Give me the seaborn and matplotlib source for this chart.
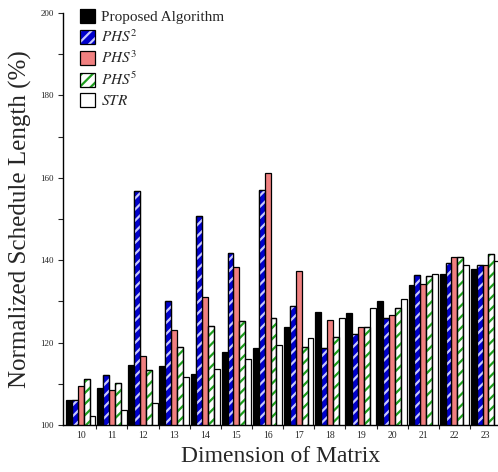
import numpy as np
import pandas as pd
import seaborn as sns
import matplotlib
matplotlib.use("Agg")
import matplotlib.pyplot as plt
from matplotlib.patches import Rectangle, Patch
from matplotlib.legend_handler import HandlerTuple
from matplotlib.ticker import MultipleLocator, FixedLocator

dims = [10, 11, 12, 13, 14, 15, 16, 17, 18, 19, 20, 21, 22, 23]
proposed = [106.1, 108.9, 114.5, 114.3, 112.5, 117.6, 118.7, 123.7, 127.4, 127.1, 130.2, 133.9, 136.6, 137.9]
phs2 = [106.0, 112.1, 156.8, 130.2, 150.7, 141.8, 157.0, 128.8, 118.8, 122.0, 126.0, 136.3, 139.2, 138.8]
phs3 = [109.5, 108.4, 116.7, 123.0, 131.1, 138.3, 161.1, 137.3, 125.5, 123.9, 126.6, 134.2, 140.7, 138.8]
phs5 = [111.2, 110.1, 113.3, 118.9, 124.1, 125.2, 126.0, 119.0, 121.4, 123.9, 128.4, 136.2, 140.7, 141.4]
strv = [102.3, 103.6, 105.3, 111.7, 113.5, 116.0, 119.3, 121.2, 126.0, 128.4, 130.5, 136.6, 138.8, 139.7]

names = ["Proposed Algorithm", r"$PHS^2$", r"$PHS^3$", r"$PHS^5$", r"$STR$"]
face_colors = ["#000000", "#0000CC", "#F08080", "#FFFFFF", "#FFFFFF"]
hatch_colors = [None, "#C8C8FF", None, "#1E9E1E", None]

series = [proposed, phs2, phs3, phs5, strv]
df = pd.DataFrame({
    "dim": [str(d) for s in series for d in dims],
    "val": [v for s in series for v in s],
    "alg": [n for n, s in zip(names, series) for _ in s],
})

sns.set_theme(style="ticks")
plt.rcParams["font.family"] = ["Liberation Serif", "DejaVu Serif"]
plt.rcParams["mathtext.fontset"] = "stix"
plt.rcParams["hatch.linewidth"] = 1.6

fig = plt.figure(figsize=(4.98, 4.72), dpi=100)
ax = fig.add_axes([63 / 498, 47 / 472, 435 / 498, 412 / 472])

sns.barplot(data=df, x="dim", y="val", hue="alg", hue_order=names,
            palette=face_colors, saturation=1, width=0.945, gap=0,
            edgecolor="black", linewidth=0.9, ax=ax, legend=False)

# hatch overlays
for cont, hc in zip(ax.containers, hatch_colors):
    if hc is None:
        continue
    for p in cont.patches:
        x, y = p.get_xy()
        r = Rectangle((x, y), p.get_width(), p.get_height(), fill=False,
                      hatch="///", edgecolor=hc, linewidth=0, zorder=p.get_zorder() + 0.1)
        ax.add_patch(r)
        o = Rectangle((x, y), p.get_width(), p.get_height(), fill=False,
                      edgecolor="black", linewidth=0.9, zorder=p.get_zorder() + 0.2)
        ax.add_patch(o)

ax.set_ylim(100, 200)
ax.set_xlim(-0.57, 13.4)
ax.yaxis.set_major_locator(MultipleLocator(20))
ax.yaxis.set_minor_locator(MultipleLocator(10))
ax.xaxis.set_minor_locator(FixedLocator(np.arange(0.5, 13.5, 1.0)))
ax.tick_params(axis="x", which="major", length=0, labelsize=7, pad=4)
ax.tick_params(axis="x", which="minor", length=3, width=0.8, direction="out")
ax.tick_params(axis="y", which="both", length=3.5, width=0.8, direction="out", labelsize=6.5, pad=3)
for s in ["top", "right"]:
    ax.spines[s].set_visible(False)
for s in ["left", "bottom"]:
    ax.spines[s].set_color("black")
    ax.spines[s].set_linewidth(1.0)

ax.set_xlabel("Dimension of Matrix", fontsize=17, labelpad=5)
ax.set_ylabel("Normalized Schedule Length (%)", fontsize=18, labelpad=6)

handles = []
for fc, hc in zip(face_colors, hatch_colors):
    parts = [Patch(facecolor=fc, edgecolor="none")]
    if hc is not None:
        parts.append(Patch(fill=False, hatch="///", edgecolor=hc, linewidth=0))
    parts.append(Patch(fill=False, edgecolor="black", linewidth=0.9))
    handles.append(tuple(parts))

ax.legend(handles, names, handler_map={tuple: HandlerTuple(ndivide=1, pad=0)},
          loc="upper left", bbox_to_anchor=(80 / 498, 1 - 9 / 472),
          bbox_transform=fig.transFigure, frameon=False, fontsize=11,
          handlelength=1.0, handleheight=1.0, handletextpad=0.35,
          labelspacing=0.3, borderpad=0, borderaxespad=0)

fig.savefig("out.png", dpi=100)
